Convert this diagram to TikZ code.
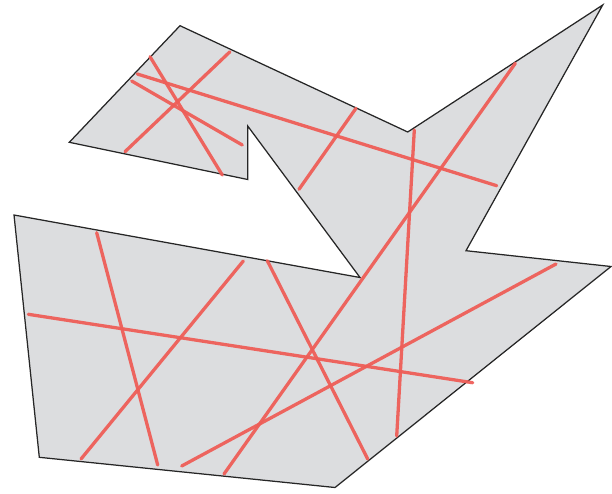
\documentclass[tikz,border=0pt]{standalone}
\usetikzlibrary{decorations.pathmorphing}
\definecolor{shapefill}{HTML}{DCDDDF}
\definecolor{redline}{HTML}{EE5E58}
\tikzset{
  outline/.style={draw=black!85, line width=1.25pt, fill=shapefill, line join=miter},
  cut/.style={draw=redline, line width=3.3pt, line cap=round, opacity=0.95}
}
\begin{document}
\begin{tikzpicture}[x=1pt,y=-1pt]
\useasboundingbox (0,0) rectangle (612,493);
\path[outline] (180,25.7) -- (407.7,132) -- (602.7,5) -- (466,250.7) -- (611,266.5)
  -- (335,487.5) -- (39.3,457.3) -- (14,215) -- (360,277.5) -- (247.7,126)
  -- (247.7,179.5) -- (69.3,142.3) -- cycle;
% upper part
\draw[cut] (150,56.7) -- (222.3,175);
\draw[cut] (230,51.7) -- (125,151.7);
\draw[cut] (137.3,74) -- (496.7,185.7);
\draw[cut] (131.7,81) -- (242.3,145);
\draw[cut] (356,108.3) -- (299,189.3);
\draw[cut] (515.3,63.3) -- (224,474);
\draw[cut] (414.3,130) -- (396.7,436);
% lower part
\draw[cut] (96.7,232.7) -- (157.7,465);
\draw[cut] (243.3,261) -- (81,459);
\draw[cut] (28.3,314.3) -- (472.7,382.7);
\draw[cut] (267.3,260.7) -- (367.7,459);
\draw[cut] (556,264) -- (181.7,466);
\end{tikzpicture}
\end{document}
